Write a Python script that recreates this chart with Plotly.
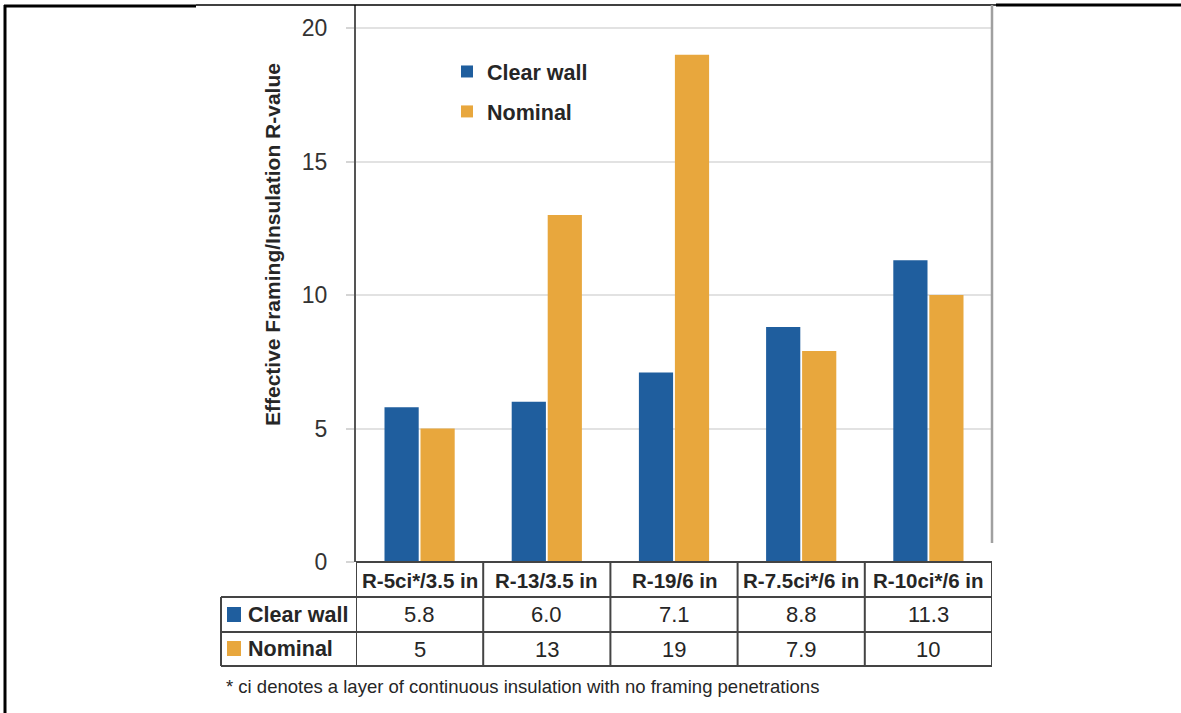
import plotly.graph_objects as go

# Wall assemblies and their R-values
categories = ["R-5ci*/3.5 in", "R-13/3.5 in", "R-19/6 in", "R-7.5ci*/6 in", "R-10ci*/6 in"]
clear_wall = [5.8, 6.0, 7.1, 8.8, 11.3]
nominal = [5, 13, 19, 7.9, 10]
clear_wall_text = ["5.8", "6.0", "7.1", "8.8", "11.3"]
nominal_text = ["5", "13", "19", "7.9", "10"]
y_ticks = [0, 5, 10, 15, 20]

BLUE = "#1f5e9e"
ORANGE = "#e8a73d"
TEXT = "#262626"
FONT = "Liberation Sans, Arial, sans-serif"

W, H = 1181, 713
L, R, T, B = 356, 992, 5, 562  # plot area in pixels


def px(x):
    return (x - L) / (R - L)


def py(y):
    return (B - y) / (B - T)


fig = go.Figure()
fig.add_trace(go.Bar(name="Clear wall", x=categories, y=clear_wall,
                     marker=dict(color=BLUE, line=dict(width=0)), legendgroup="a"))
fig.add_trace(go.Bar(name="Nominal", x=categories, y=nominal,
                     marker=dict(color=ORANGE, line=dict(width=0)), legendgroup="b"))

shapes = []
LINE = dict(color="#444444", width=2)

# outer frame
shapes.append(dict(type="line", xref="paper", yref="paper", x0=px(5), x1=px(5), y0=py(5), y1=py(713),
                   line=dict(color="black", width=3)))
shapes.append(dict(type="line", xref="paper", yref="paper", x0=px(4), x1=px(196), y0=py(6), y1=py(6),
                   line=dict(color="black", width=3)))
shapes.append(dict(type="line", xref="paper", yref="paper", x0=px(196), x1=px(996), y0=py(5), y1=py(5),
                   line=dict(color="black", width=1.5)))
shapes.append(dict(type="line", xref="paper", yref="paper", x0=px(996), x1=px(1181), y0=py(5), y1=py(5),
                   line=dict(color="black", width=3)))

# right edge of the plot area
shapes.append(dict(type="line", xref="paper", yref="paper", x0=1, x1=1, y0=py(543), y1=1,
                   line=dict(color="#a0a0a0", width=2.5)))

# data table grid
row_y = [562, 597, 632, 666]
shapes.append(dict(type="line", xref="paper", yref="paper", x0=0, x1=1, y0=py(562), y1=py(562), line=LINE))
for yy in row_y[1:]:
    shapes.append(dict(type="line", xref="paper", yref="paper", x0=px(221), x1=1, y0=py(yy), y1=py(yy), line=LINE))
shapes.append(dict(type="line", xref="paper", yref="paper", x0=px(221), x1=px(221), y0=py(597), y1=py(666), line=LINE))
for i in range(len(categories) + 1):
    shapes.append(dict(type="line", xref="x", yref="paper", x0=i - 0.5, x1=i - 0.5,
                       y0=py(562), y1=py(666), line=LINE))

# series swatches in the table
shapes.append(dict(type="rect", xref="paper", yref="paper", x0=px(227), x1=px(241), y0=py(607), y1=py(622),
                   fillcolor=BLUE, line=dict(width=0)))
shapes.append(dict(type="rect", xref="paper", yref="paper", x0=px(227), x1=px(241), y0=py(641), y1=py(656),
                   fillcolor=ORANGE, line=dict(width=0)))

annotations = []
annotations.append(dict(text="<b>Clear wall</b>", xref="paper", yref="paper", x=px(246), y=py(614.5),
                        xanchor="left", yanchor="middle", showarrow=False,
                        font=dict(family=FONT, size=21.5, color=TEXT)))
annotations.append(dict(text="<b>Nominal</b>", xref="paper", yref="paper", x=px(246), y=py(649),
                        xanchor="left", yanchor="middle", showarrow=False,
                        font=dict(family=FONT, size=21.5, color=TEXT)))
for i, cat in enumerate(categories):
    annotations.append(dict(text=f"<b>{cat}</b>", xref="x", yref="paper", x=i, y=py(580),
                            xanchor="center", yanchor="middle", showarrow=False,
                            font=dict(family=FONT, size=20.5, color=TEXT)))
    annotations.append(dict(text=clear_wall_text[i], xref="x", yref="paper", x=i, y=py(614.5),
                            xanchor="center", yanchor="middle", showarrow=False,
                            font=dict(family=FONT, size=22, color=TEXT)))
    annotations.append(dict(text=nominal_text[i], xref="x", yref="paper", x=i, y=py(649),
                            xanchor="center", yanchor="middle", showarrow=False,
                            font=dict(family=FONT, size=22, color=TEXT)))

# y-axis title
annotations.append(dict(text="<b>Effective Framing/Insulation R-value</b>", xref="paper", yref="paper",
                        x=px(272), y=py(245), textangle=-90, xanchor="center", yanchor="middle",
                        showarrow=False, font=dict(family=FONT, size=21, color=TEXT)))

# footnote
annotations.append(dict(text="* ci denotes a layer of continuous insulation with no framing penetrations",
                        xref="paper", yref="paper", x=px(224), y=py(686), xanchor="left", yanchor="middle",
                        showarrow=False, font=dict(family=FONT, size=18.5, color=TEXT)))

fig.update_layout(
    width=W, height=H,
    margin=dict(l=L, r=W - R, t=T, b=H - B, pad=0),
    paper_bgcolor="white", plot_bgcolor="white",
    barmode="group", bargap=0.434, bargroupgap=0.05,
    showlegend=True,
    legend=dict(x=px(447), y=py(51), xanchor="left", yanchor="top", traceorder="grouped",
                tracegroupgap=9, bgcolor="rgba(0,0,0,0)",
                font=dict(family=FONT, size=21.5, color=TEXT, weight="bold")),
    xaxis=dict(showticklabels=False, showgrid=False, showline=False, zeroline=False,
               range=[-0.5, len(categories) - 0.5]),
    yaxis=dict(range=[0, (B - T) / ((B - 28) / 20)], tickvals=y_ticks,
               showgrid=True, gridcolor="#e2e2e2", gridwidth=1.5,
               showline=True, linecolor="#555555", linewidth=2, zeroline=False,
               ticks="outside", ticklen=8, tickcolor="#d5d5d5", tickwidth=1.5,
               tickfont=dict(family=FONT, size=23, color="#333333"), ticklabelstandoff=14),
    shapes=shapes,
    annotations=annotations,
)

fig.write_html("out.html")
